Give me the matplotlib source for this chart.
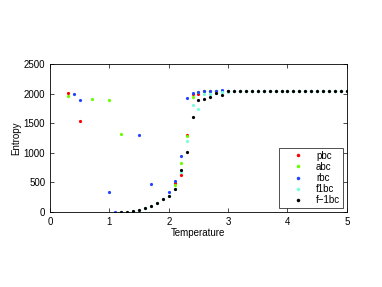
import numpy as np
import matplotlib
matplotlib.use("Agg")
import matplotlib.pyplot as plt

# temperature grid for the high-T plateau (2.6 .. 5.0)
t_high = [2.6, 2.7, 2.8, 2.9, 3.0, 3.1, 3.2, 3.3, 3.4, 3.5, 3.6, 3.7, 3.8, 3.9,
          4.0, 4.1, 4.2, 4.3, 4.4, 4.5, 4.6, 4.7, 4.8, 4.9, 5.0]

pbc_t = [0.3, 0.5, 2.1, 2.2, 2.3, 2.4, 2.5] + t_high
pbc_s = [2005, 1532, 495, 625, 1295, 1988, 1988] + [2040] * len(t_high)

abc_t = [0.3, 0.7, 1.0, 1.2, 2.1, 2.2, 2.3, 2.4, 2.5] + t_high
abc_s = [1954, 1904, 1887, 1323, 456, 822, 1290, 1948, 2035] + [2045] * len(t_high)

rbc_t = [0.4, 0.5, 1.0, 1.1, 1.5, 1.7, 2.0, 2.1, 2.2, 2.3, 2.4, 2.5] + t_high
rbc_s = [1988, 1892, 343, 0, 1306, 468, 343, 529, 940, 1930, 2005, 2032] + \
        [2040, 2044, 2048, 2058] + [2050] * (len(t_high) - 4)

f1bc_t = [1.2, 1.3, 1.4, 1.5, 1.6, 1.7, 1.8, 1.9, 2.0, 2.1, 2.2, 2.3, 2.4, 2.5] + t_high
f1bc_s = [2, 8, 18, 40, 70, 100, 150, 225, 270, 390, 676, 1205, 1812, 1740] + \
         [2000, 1990, 2005, 2030, 2035] + [2045] * (len(t_high) - 5)

fm1bc_t = [1.2, 1.3, 1.4, 1.5, 1.6, 1.7, 1.8, 1.9, 2.0, 2.1, 2.2, 2.3, 2.4, 2.5] + t_high
fm1bc_s = [2, 8, 18, 40, 70, 100, 157, 214, 270, 390, 715, 1020, 1600, 1897] + \
          [1914, 1945, 2015, 1976, 2044] + [2045] * (len(t_high) - 5)

series = [
    ("pbc", pbc_t, pbc_s, "#ff0000"),
    ("abc", abc_t, abc_s, "#66ff00"),
    ("rbc", rbc_t, rbc_s, "#2244ff"),
    ("f1bc", f1bc_t, f1bc_s, "#77ffdd"),
    ("f\u22121bc", fm1bc_t, fm1bc_s, "#000000"),
]

plt.rcParams['font.family'] = ['Liberation Sans', 'DejaVu Sans']
fig = plt.figure(figsize=(3.82, 2.87), dpi=100)
ax = fig.add_axes([0.131, 0.261, 0.777, 0.516])

for name, t, s, c in series:
    ax.plot(t, s, 'o', color=c, ms=2.3, mew=0, label=name)

ax.set_xlim(0, 5)
ax.set_ylim(0, 2500)
ax.set_xticks([0, 1, 2, 3, 4, 5])
ax.set_yticks([0, 500, 1000, 1500, 2000, 2500])
ax.tick_params(direction='in', top=True, right=True, labelsize=7, length=3, width=0.5)
for sp in ax.spines.values():
    sp.set_linewidth(0.6)
ax.set_xlabel("Temperature", fontsize=7, labelpad=1)
ax.set_ylabel("Entropy", fontsize=7, labelpad=2)

leg = ax.legend(loc='lower right', fontsize=7, frameon=True, fancybox=False,
                edgecolor='black', borderaxespad=0.4, borderpad=0.3,
                handletextpad=0.1, handlelength=3.4,
                labelspacing=0.12, markerscale=1.1)
leg.get_frame().set_linewidth(0.6)

fig.savefig("out.png", dpi=100)
